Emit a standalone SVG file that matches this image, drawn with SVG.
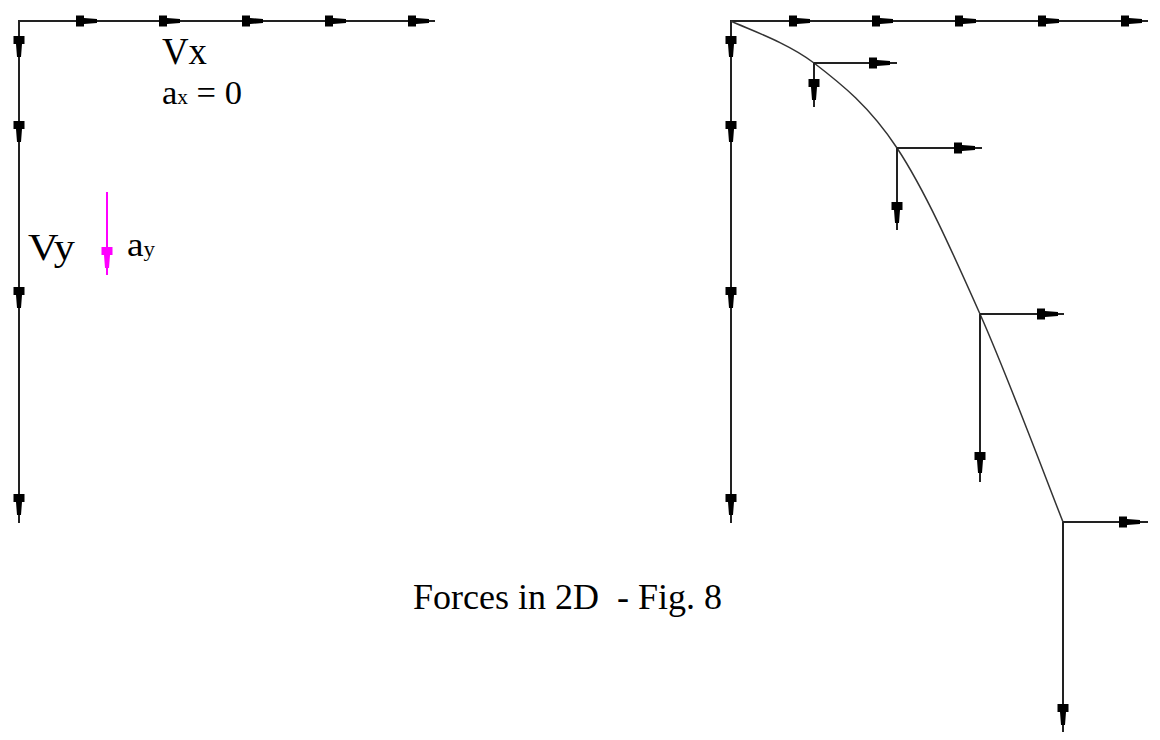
<svg xmlns="http://www.w3.org/2000/svg" xmlns:xlink="http://www.w3.org/1999/xlink" width="1160" height="740" viewBox="0 0 1160 740">
<style>
.ax{stroke:#222;stroke-width:2;fill:none}
.cv{stroke:#333;stroke-width:1.5;fill:none}
.mg{stroke:#ff00ff;stroke-width:2;fill:none}
.t{font-family:"Liberation Serif","Times New Roman",serif;fill:#000}
</style>
<defs>
<path id="ar" d="M-21,-5.5 H-13 V-3 L0,-2 V2 L-13,3 V5.5 H-21 Z" fill="#000"/>
<path id="ad" d="M-5.5,-21 V-13 H-3 L-2,0 H2 L3,-13 H5.5 V-21 Z" fill="#000"/>
<path id="adm" d="M-5.5,-21 V-13 H-3 L-2,0 H2 L3,-13 H5.5 V-21 Z" fill="#ff00ff"/>
</defs>
<g id="left-axes">
<path class="ax" d="M435,21 H19 V523"/>
<use xlink:href="#ar" x="97" y="21"/><use xlink:href="#ar" x="180" y="21"/><use xlink:href="#ar" x="263" y="21"/><use xlink:href="#ar" x="346" y="21"/><use xlink:href="#ar" x="429" y="21"/>
<use xlink:href="#ad" x="19" y="57"/><use xlink:href="#ad" x="19" y="142"/><use xlink:href="#ad" x="19" y="308"/><use xlink:href="#ad" x="19" y="515"/>
</g>
<g id="accel-y">
<path class="mg" d="M107,192 V275"/>
<use xlink:href="#adm" x="107" y="268"/>
</g>
<g id="labels">
<text class="t" x="162" y="64" font-size="37" textLength="45" lengthAdjust="spacingAndGlyphs">Vx</text>
<text class="t" x="162" y="104" font-size="34" textLength="80" lengthAdjust="spacingAndGlyphs">a<tspan font-size="21">x</tspan> = 0</text>
<text class="t" x="28" y="260" font-size="38" textLength="47" lengthAdjust="spacingAndGlyphs">Vy</text>
<text class="t" x="127" y="256" font-size="34" textLength="28" lengthAdjust="spacingAndGlyphs">a<tspan font-size="21">y</tspan></text>
<text class="t" x="413" y="609" font-size="36" textLength="309" lengthAdjust="spacingAndGlyphs">Forces in 2D&#160; - Fig. 8</text>
</g>
<g id="right-axes">
<path class="ax" d="M1148,21 H731 V523"/>
<use xlink:href="#ar" x="810" y="21"/><use xlink:href="#ar" x="893" y="21"/><use xlink:href="#ar" x="976" y="21"/><use xlink:href="#ar" x="1059" y="21"/><use xlink:href="#ar" x="1142" y="21"/>
<use xlink:href="#ad" x="731" y="57"/><use xlink:href="#ad" x="731" y="142"/><use xlink:href="#ad" x="731" y="308"/><use xlink:href="#ad" x="731" y="515"/>
</g>
<g id="trajectory">
<path class="cv" d="M731,21 C744.8,28 786.3,41.8 814,63 C841.7,84.2 869.3,106.2 897,148 C924.7,189.8 952.3,251.7 980,314 C1007.7,376.3 1049.2,487.3 1063,522"/>
</g>
<g id="connectors">
<path class="ax" d="M814,63 H897 M814,63 V107"/>
<use xlink:href="#ar" x="890" y="63"/><use xlink:href="#ad" x="814" y="100"/>
<path class="ax" d="M897,148 H982 M897,148 V230"/>
<use xlink:href="#ar" x="975" y="148"/><use xlink:href="#ad" x="897" y="223"/>
<path class="ax" d="M980,314 H1064 M980,314 V482"/>
<use xlink:href="#ar" x="1058" y="314"/><use xlink:href="#ad" x="980" y="473"/>
<path class="ax" d="M1063,522 H1148 M1063,522 V732"/>
<use xlink:href="#ar" x="1140" y="522"/><use xlink:href="#ad" x="1063" y="725"/>
</g>
</svg>
